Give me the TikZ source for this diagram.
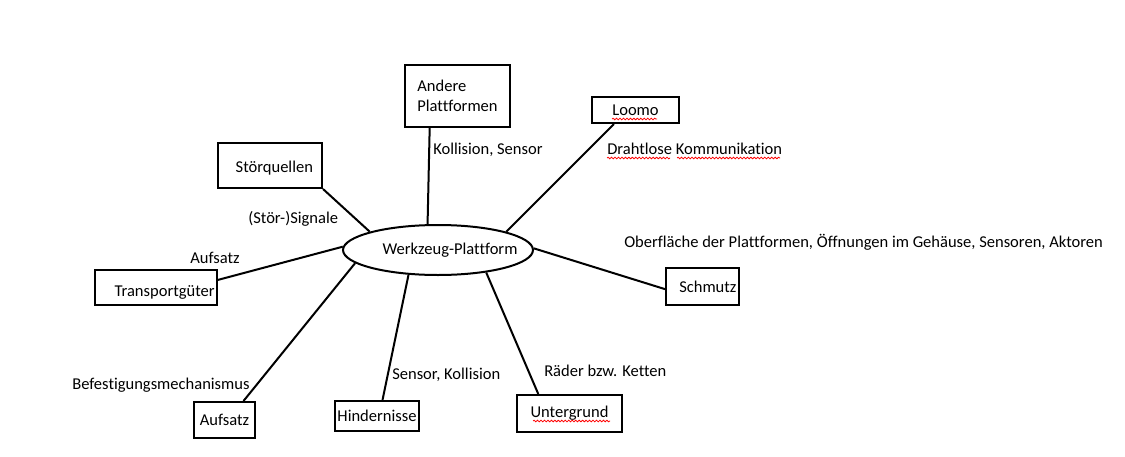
\documentclass[tikz,border=0pt]{standalone}
\usepackage{fontspec}
\setmainfont{Carlito}[Ligatures=NoCommon]
\usetikzlibrary{shapes.geometric,decorations.pathmorphing}
\tikzset{
  box/.style={
    draw,
    rectangle,
    inner sep=0pt,
    align=left,
    line width=1.5pt,
    font=\fontsize{12.4}{15}\selectfont
  },
  hub/.style={
    draw,
    ellipse,
    minimum width=142.5pt,
    minimum height=37.5pt,
    inner sep=0pt,
    line width=1.5pt,
    font=\fontsize{12.4}{15}\selectfont
  },
  link/.style={line width=1.5pt},
  flowlabel/.style={font=\fontsize{12.4}{15}\selectfont, inner sep=0pt, anchor=west},
  typo/.style={draw=red, line width=0.6pt, decorate,
    decoration={snake, amplitude=0.6pt, segment length=2.6pt}}
}

\begin{document}
\begin{tikzpicture}[x=0.75pt, y=-0.75pt]
  \useasboundingbox (0,0) rectangle (1125,457);

  \node[hub] (hub) at (438,250) {\makebox[0pt]{\hspace*{18pt}Werkzeug-Plattform}};

  \node[box, minimum width=78.75pt, minimum height=46.5pt] (andere) at (457.5,96) {Andere\\Plattformen};
  \node[box, minimum width=65.25pt, minimum height=19.5pt] (loomo) at (635.5,110) {Loomo};
  \node[box, minimum width=78pt, minimum height=33.75pt, text width=64.5pt, align=right,
        text height=13pt, text depth=2.5pt] (stoer) at (270,165.5) {Störquellen};
  \node[box, minimum width=91.5pt, minimum height=26.25pt, text width=88pt, align=right,
        text height=16pt, text depth=2.5pt] (transport) at (156,287.5) {Transportgüter};
  \node[box, minimum width=54.75pt, minimum height=27.75pt, text width=51pt, align=right] (schmutz) at (702.5,286.5) {Schmutz};
  \node[box, minimum width=45.75pt, minimum height=27pt] (aufsatz) at (224.5,420) {Aufsatz};
  \node[box, minimum width=63pt, minimum height=22.5pt] (hindernis) at (377,416) {Hindernisse};
  \node[box, minimum width=78.75pt, minimum height=27.75pt] (grund) at (569.5,413.5) {Untergrund};

  % connectors
  \draw[link] (andere.-131.6) -- (hub.112);
  \draw[link] (loomo.-147.6) -- (hub.15.4);
  \draw[link] (stoer.south east) -- (hub.165.8);
  \draw[link] (transport.7) -- (hub.178);
  \draw[link] (aufsatz.45.8) -- (hub.-171.1);
  \draw[link] (hindernis.71.6) -- (hub.-140.2);
  \draw[link] (grund.148.8) -- (hub.-25.6);
  \draw[link] (schmutz.-176.1) -- (hub.1);

  % labels
  \node[flowlabel] (kollsens) at (433,150) {Kollision, Sensor};
  \node[flowlabel] (funk) at (607,149) {Drahtlose Kommunikation};
  \node[flowlabel] (signale) at (248,219) {(Stör-)Signale};
  \node[flowlabel] (aufsatzlbl) at (190,258) {Aufsatz};
  \node[flowlabel] (oberflaeche) at (624,242) {Oberfläche der Plattformen, Öffnungen im Gehäuse, Sensoren, Aktoren};
  \node[flowlabel] (befest) at (72,385) {Befestigungsmechanismus};
  \node[flowlabel] (senskoll) at (392,375) {Sensor, Kollision};
  \node[flowlabel] (raeder) at (544,371) {Räder bzw. Ketten};

  % spelling marks
  \draw[typo] (612,119) -- (657,119);
  \draw[typo] (607,158) -- (670,158);
  \draw[typo] (677,158) -- (780,158);
  \draw[typo] (533,421) -- (610,421);
\end{tikzpicture}
\end{document}
